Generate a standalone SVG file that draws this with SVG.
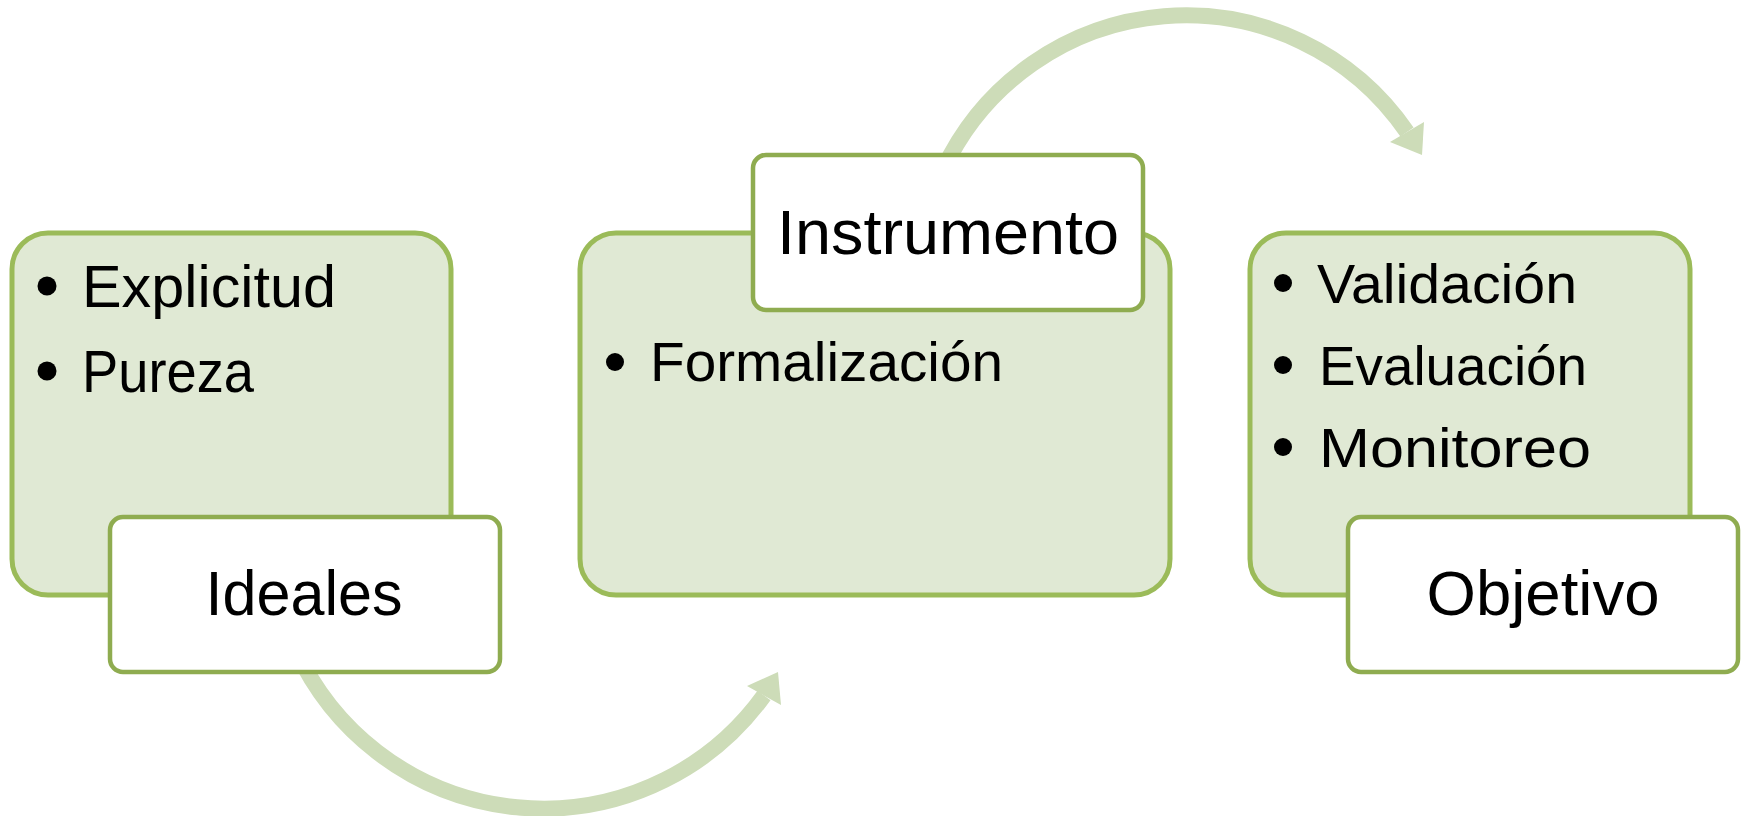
<svg xmlns="http://www.w3.org/2000/svg" width="1747" height="816" viewBox="0 0 1747 816">
<style>
.card{fill:#e0e9d4;stroke:#9bbb59;stroke-width:5}
.label{fill:#ffffff;stroke:#8fac50;stroke-width:4.5}
.t{font-family:"Liberation Sans",Arial,sans-serif;fill:#000000}
.lt{font-size:63px;text-anchor:middle}
.bl{fill:#000000}
.arc{fill:none;stroke:#cddcb8;stroke-width:16}
.head{fill:#cddcb8}
</style>
<rect width="1747" height="816" fill="#ffffff"/>
<g id="connectors">
  <path class="arc" d="M296,650 A272,272 0 0 0 764,695.5"/>
  <polygon class="head" points="747,686 778,672 781,705"/>
  <path class="arc" d="M943,170 A268,268 0 0 1 1407,132"/>
  <polygon class="head" points="1390,142 1422,155 1424,122"/>
</g>
<g id="node-ideales">
  <rect class="card" x="12" y="233" width="439" height="362" rx="36"/>
  <circle class="bl" cx="47" cy="286" r="9.5"/>
  <text class="t" x="82" y="307" font-size="60" textLength="254" lengthAdjust="spacingAndGlyphs">Explicitud</text>
  <circle class="bl" cx="47" cy="371" r="9.5"/>
  <text class="t" x="82" y="392" font-size="60" textLength="172" lengthAdjust="spacingAndGlyphs">Pureza</text>
  <rect class="label" x="110" y="517" width="390" height="155" rx="13"/>
  <text class="t lt" x="304" y="615" textLength="197" lengthAdjust="spacingAndGlyphs">Ideales</text>
</g>
<g id="node-instrumento">
  <rect class="card" x="580" y="233" width="590" height="362" rx="36"/>
  <circle class="bl" cx="615" cy="362" r="9"/>
  <text class="t" x="650" y="381" font-size="56" textLength="353" lengthAdjust="spacingAndGlyphs">Formalización</text>
  <rect class="label" x="753" y="155" width="390" height="155" rx="13"/>
  <text class="t lt" x="948" y="254" textLength="342" lengthAdjust="spacingAndGlyphs">Instrumento</text>
</g>
<g id="node-objetivo">
  <rect class="card" x="1250" y="233" width="440" height="362" rx="36"/>
  <circle class="bl" cx="1283" cy="283" r="9"/>
  <text class="t" x="1317" y="303" font-size="56" textLength="260" lengthAdjust="spacingAndGlyphs">Validación</text>
  <circle class="bl" cx="1283" cy="365" r="9"/>
  <text class="t" x="1319" y="385" font-size="56" textLength="268" lengthAdjust="spacingAndGlyphs">Evaluación</text>
  <circle class="bl" cx="1283" cy="447" r="9"/>
  <text class="t" x="1319" y="467" font-size="56" textLength="272" lengthAdjust="spacingAndGlyphs">Monitoreo</text>
  <rect class="label" x="1348" y="517" width="390" height="155" rx="13"/>
  <text class="t lt" x="1543" y="615" textLength="233" lengthAdjust="spacingAndGlyphs">Objetivo</text>
</g>
</svg>
